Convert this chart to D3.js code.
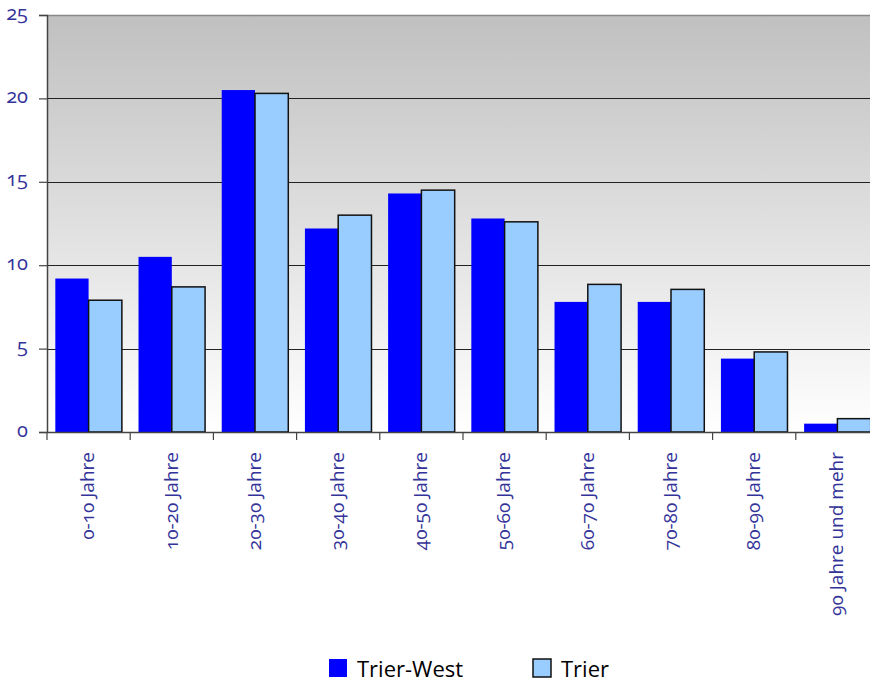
<!DOCTYPE html>
<html>
<head>
<meta charset="utf-8">
<script src="https://cdn.jsdelivr.net/npm/d3@7"></script>
<style>
  html, body { margin: 0; padding: 0; background: #fff; }
  svg { display: block; }
  .tick-label { font-family: "Open Sans", "Lato", sans-serif; font-variant-numeric: oldstyle-nums; font-feature-settings: "onum" 1; fill: #333399; }
  .legend-label { font-family: "Open Sans", sans-serif; fill: #000; }
</style>
</head>
<body>
<script>
// Age groups and population shares (%)
const categories = ["0-10 Jahre", "10-20 Jahre", "20-30 Jahre", "30-40 Jahre", "40-50 Jahre",
                    "50-60 Jahre", "60-70 Jahre", "70-80 Jahre", "80-90 Jahre", "90 Jahre und mehr"];
const trierWest = [9.2, 10.5, 20.5, 12.2, 14.3, 12.8, 7.8, 7.8, 4.4, 0.5];
const trier     = [7.9, 8.7, 20.3, 13.0, 14.5, 12.6, 8.85, 8.55, 4.8, 0.8];
const seriesNames = ["Trier-West", "Trier"];
const yTicks = [0, 5, 10, 15, 20, 25];

const W = 870, H = 684;
const margin = { left: 47, top: 15 };
const plotW = 832, plotH = 417;

const svg = d3.select("body").append("svg").attr("width", W).attr("height", H);

const defs = svg.append("defs");
const grad = defs.append("linearGradient").attr("id", "bg").attr("x1", 0).attr("y1", 0).attr("x2", 0).attr("y2", 1);
grad.append("stop").attr("offset", "0%").attr("stop-color", "#c0c0c0");
grad.append("stop").attr("offset", "100%").attr("stop-color", "#ffffff");

const x0 = d3.scaleBand().domain(categories).range([0, plotW]).paddingInner(0).paddingOuter(0);
const x1 = d3.scaleBand().domain(seriesNames).range([x0.bandwidth() * 0.1, x0.bandwidth() * 0.9]);
const y = d3.scaleLinear().domain([0, 25]).range([plotH, 0]);

const g = svg.append("g").attr("transform", `translate(${margin.left},${margin.top})`);

// plot background
g.append("rect").attr("x", 0).attr("y", 0).attr("width", plotW).attr("height", plotH).attr("fill", "url(#bg)");
// top border
g.append("line").attr("x1", 0).attr("x2", plotW).attr("y1", 0.5).attr("y2", 0.5)
  .attr("stroke", "#888").attr("stroke-width", 1.5);

// gridlines
g.selectAll(".grid").data(yTicks.filter(t => t > 0 && t < 25)).enter().append("line")
  .attr("x1", 0).attr("x2", plotW)
  .attr("y1", d => Math.round(y(d)) + 0.5).attr("y2", d => Math.round(y(d)) + 0.5)
  .attr("stroke", "#222").attr("stroke-width", 1);

// bars
const data = categories.map((c, i) => ({ c, vals: [{ s: "Trier-West", v: trierWest[i] }, { s: "Trier", v: trier[i] }] }));
const groups = g.selectAll(".grp").data(data).enter().append("g")
  .attr("transform", d => `translate(${x0(d.c)},0)`);
groups.selectAll("rect").data(d => d.vals).enter().append("rect")
  .attr("x", d => x1(d.s))
  .attr("y", d => y(d.v))
  .attr("width", x1.bandwidth())
  .attr("height", d => y(0) - y(d.v))
  .attr("fill", d => d.s === "Trier" ? "#99ccff" : "#0000ff")
  .attr("stroke", d => d.s === "Trier" ? "#111" : "none")
  .attr("stroke-width", 1.5);

// y axis
const yAxis = d3.axisLeft(y).tickValues(yTicks).tickSize(8).tickPadding(11);
const ya = g.append("g").call(yAxis);
ya.select(".domain").attr("stroke", "#444").attr("stroke-width", 1.5);
ya.selectAll(".tick line").attr("stroke", "#444").attr("stroke-width", 1.2);
ya.selectAll(".tick text").attr("class", "tick-label").style("font-size", "20px")
  .attr("dy", "0.2em").attr("fill", "#333399");

// x axis
const xAxis = d3.axisBottom(x0).tickSize(0).tickFormat("");
const xa = g.append("g").attr("transform", `translate(0,${plotH})`).call(xAxis);
xa.select(".domain").attr("stroke", "#444").attr("stroke-width", 1.5);
// category boundary ticks
xa.selectAll(".bound").data(d3.range(categories.length + 1)).enter().append("line")
  .attr("x1", i => i * x0.step()).attr("x2", i => i * x0.step())
  .attr("y1", 0).attr("y2", 8)
  .attr("stroke", "#444").attr("stroke-width", 1.2);
// rotated category labels
xa.selectAll(".cat").data(categories).enter().append("text")
  .attr("class", "tick-label")
  .attr("transform", d => `translate(${x0(d) + x0.bandwidth() / 2},20) rotate(-90)`)
  .attr("text-anchor", "end")
  .attr("dy", "0.3em")
  .style("font-size", "19px")
  .text(d => d);

// legend
const legend = svg.append("g");
const items = [
  { name: "Trier-West", color: "#0000ff", stroke: "none", x: 329 },
  { name: "Trier", color: "#99ccff", stroke: "#111", x: 533 }
];
items.forEach(it => {
  legend.append("rect").attr("x", it.x).attr("y", 659).attr("width", 18).attr("height", 18)
    .attr("fill", it.color).attr("stroke", it.stroke).attr("stroke-width", 1.5);
  legend.append("text").attr("class", "legend-label").attr("x", it.x + 28).attr("y", 677)
    .style("font-size", "22px").text(it.name);
});
</script>
</body>
</html>
